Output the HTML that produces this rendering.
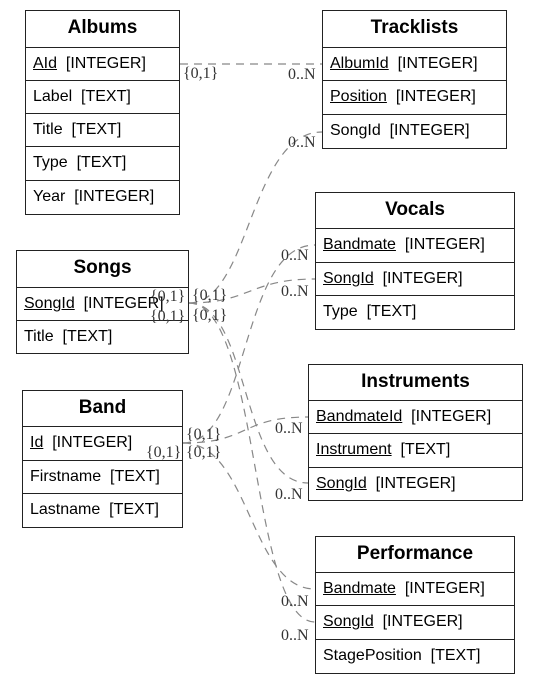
<!DOCTYPE html>
<html><head><meta charset="utf-8"><style>
body{margin:0;width:539px;height:684px;background:#fff;position:relative;overflow:hidden;font-family:"Liberation Sans",sans-serif;}
.t{position:absolute;border:1.3px solid #222;box-sizing:border-box;background:#fff;}
.h{font-weight:bold;font-size:19px;text-align:center;border-bottom:1.3px solid #222;box-sizing:border-box;}
.r{font-size:16px;padding-left:7px;border-bottom:1.3px solid #222;box-sizing:border-box;white-space:nowrap;}
.r:last-child{border-bottom:none}
u{text-decoration:underline}
svg{position:absolute;left:0;top:0}
.l{font-family:"Liberation Serif",serif;font-size:16px;fill:#333}
</style></head><body>
<svg width="539" height="684" style="z-index:0">
<g fill="none" stroke="#888" stroke-width="1.2" stroke-dasharray="8,6">
<path d="M180 64 L322 64"/>
<path d="M189 303 C250 303 250 132 322 132"/>
<path d="M189 303 C250 303 250 279 315 279"/>
<path d="M189 303 C250 303 240 483 308 483"/>
<path d="M189 303 C260 303 250 622 315 622"/>
<path d="M183 443 C250 443 240 245 315 245"/>
<path d="M183 443 C250 443 240 417 308 417"/>
<path d="M183 443 C250 443 250 589 315 589"/>
</g>
<text class="l" x="183" y="78">{0,1}</text>
<text class="l" x="288" y="79">0..N</text>
<text class="l" x="288" y="147">0..N</text>
<text class="l" x="281" y="260">0..N</text>
<text class="l" x="281" y="296">0..N</text>
<text class="l" x="275" y="433">0..N</text>
<text class="l" x="275" y="499">0..N</text>
<text class="l" x="281" y="606">0..N</text>
<text class="l" x="281" y="640">0..N</text>
<text class="l" x="192" y="300">{0,1}</text>
<text class="l" x="192" y="320">{0,1}</text>
<text class="l" x="186" y="439">{0,1}</text>
<text class="l" x="186" y="457">{0,1}</text>
</svg>
<div class="t" style="left:25px;top:10px;width:155px;height:205px">
<div class="h" style="height:37px;line-height:33px">Albums</div>
<div class="r" style="height:33px;line-height:31px"><u>AId</u>&nbsp; [INTEGER]</div>
<div class="r" style="height:33px;line-height:31px">Label&nbsp; [TEXT]</div>
<div class="r" style="height:33px;line-height:31px">Title&nbsp; [TEXT]</div>
<div class="r" style="height:34px;line-height:31px">Type&nbsp; [TEXT]</div>
<div class="r" style="height:34px;line-height:31px">Year&nbsp; [INTEGER]</div>
</div>
<div class="t" style="left:322px;top:10px;width:185px;height:139px">
<div class="h" style="height:37px;line-height:33px">Tracklists</div>
<div class="r" style="height:33px;line-height:31px"><u>AlbumId</u>&nbsp; [INTEGER]</div>
<div class="r" style="height:34px;line-height:31px"><u>Position</u>&nbsp; [INTEGER]</div>
<div class="r" style="height:34px;line-height:31px">SongId&nbsp; [INTEGER]</div>
</div>
<div class="t" style="left:315px;top:192px;width:200px;height:138px">
<div class="h" style="height:36px;line-height:33px">Vocals</div>
<div class="r" style="height:34px;line-height:31px"><u>Bandmate</u>&nbsp; [INTEGER]</div>
<div class="r" style="height:33px;line-height:31px"><u>SongId</u>&nbsp; [INTEGER]</div>
<div class="r" style="height:34px;line-height:31px">Type&nbsp; [TEXT]</div>
</div>
<div class="t" style="left:16px;top:250px;width:173px;height:104px">
<div class="h" style="height:37px;line-height:33px">Songs</div>
<div class="r" style="height:33px;line-height:31px"><u>SongId</u>&nbsp; [INTEGER]</div>
<div class="r" style="height:33px;line-height:31px">Title&nbsp; [TEXT]</div>
</div>
<div class="t" style="left:308px;top:364px;width:215px;height:137px">
<div class="h" style="height:36px;line-height:33px">Instruments</div>
<div class="r" style="height:33px;line-height:31px"><u>BandmateId</u>&nbsp; [INTEGER]</div>
<div class="r" style="height:34px;line-height:31px"><u>Instrument</u>&nbsp; [TEXT]</div>
<div class="r" style="height:34px;line-height:31px"><u>SongId</u>&nbsp; [INTEGER]</div>
</div>
<div class="t" style="left:22px;top:390px;width:161px;height:138px">
<div class="h" style="height:36px;line-height:33px">Band</div>
<div class="r" style="height:34px;line-height:31px"><u>Id</u>&nbsp; [INTEGER]</div>
<div class="r" style="height:33px;line-height:31px">Firstname&nbsp; [TEXT]</div>
<div class="r" style="height:34px;line-height:31px">Lastname&nbsp; [TEXT]</div>
</div>
<div class="t" style="left:315px;top:536px;width:200px;height:138px">
<div class="h" style="height:36px;line-height:33px">Performance</div>
<div class="r" style="height:33px;line-height:31px"><u>Bandmate</u>&nbsp; [INTEGER]</div>
<div class="r" style="height:34px;line-height:31px"><u>SongId</u>&nbsp; [INTEGER]</div>
<div class="r" style="height:34px;line-height:31px">StagePosition&nbsp; [TEXT]</div>
</div>
<svg width="539" height="684" style="z-index:2;pointer-events:none">
<text class="l" x="150" y="301">{0,1}</text>
<text class="l" x="150" y="321">{0,1}</text>
<text class="l" x="146" y="457">{0,1}</text>
</svg>
</body></html>
